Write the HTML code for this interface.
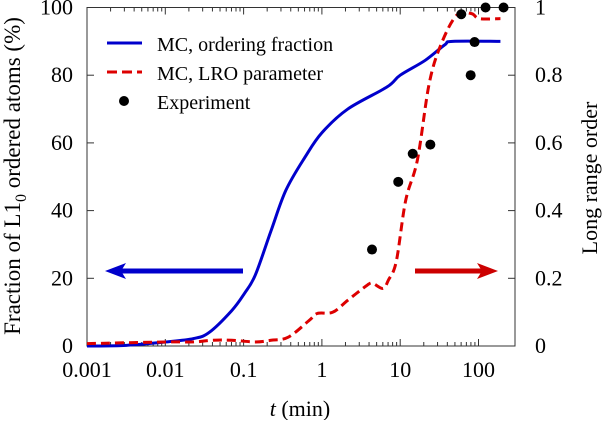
<!DOCTYPE html>
<html><head><meta charset="utf-8"><style>
body{margin:0;background:#fff}
svg text{font-family:"Liberation Serif",serif;fill:#000}
</style></head><body>
<svg id="c" width="605" height="420" viewBox="0 0 605 420" xmlns="http://www.w3.org/2000/svg">
<g id="g"></g>
</svg>
<script>
const blueLogT=[-3,-2.5,-1.99,-1.64,-1.44,-1.15,-0.99,-0.85,-0.65,-0.46,-0.21,0,0.33,0.83,1.0,1.32,1.57,1.67,2.28];
const blueVals=[0,0.2,1.2,2.2,4,10.5,15.5,21,34,46,56,63,70,76.5,80,84.4,89,90,90];
const redLogT=[-3,-1.99,-1.64,-1.4,-1.15,-0.85,-0.65,-0.43,-0.16,-0.06,0.14,0.33,0.58,0.65,0.78,0.85,0.95,1.07,1.22,1.37,1.52,1.72,1.91,2.01,2.28];
const redVals=[0.007,0.012,0.012,0.017,0.017,0.012,0.017,0.026,0.076,0.096,0.10,0.135,0.18,0.185,0.17,0.195,0.25,0.43,0.55,0.775,0.89,0.977,0.982,0.967,0.967];
const expLogT=[0.64,0.975,1.16,1.385,1.78,1.90,1.95,2.09,2.32];
const expVals=[0.285,0.485,0.568,0.595,0.98,0.80,0.898,1.0,1.0];
const xTicks=[-3,-2,-1,0,1,2];
const xTickLabels=["0.001","0.01","0.1","1","10","100"];
const yTicks=[0,20,40,60,80,100];
const y2Ticks=[0,0.2,0.4,0.6,0.8,1];
const y2TickLabels=["0","0.2","0.4","0.6","0.8","1"];
const L=87,R=515,T=7.5,B=346;
const X=v=>L+(v+3)*78.3;
const Y=v=>B-(v/100)*(B-T);
const Y2=v=>B-v*(B-T);
const g=document.getElementById('g');
const NS='http://www.w3.org/2000/svg';
function mk(t,a,p){const e=document.createElementNS(NS,t);for(const k in a)e.setAttribute(k,a[k]);(p||g).appendChild(e);return e;}
function smooth(P){let d='M'+P[0][0]+','+P[0][1];for(let i=0;i<P.length-1;i++){const p0=P[i-1]||P[i],p1=P[i],p2=P[i+1],p3=P[i+2]||p2;const c1=[p1[0]+(p2[0]-p0[0])/6,p1[1]+(p2[1]-p0[1])/6],c2=[p2[0]-(p3[0]-p1[0])/6,p2[1]-(p3[1]-p1[1])/6];d+='C'+c1+' '+c2+' '+p2;}return d;}
let e;
e=mk('rect',{x:L,y:T,width:R-L,height:B-T,fill:'none',stroke:'#333','stroke-width':1});


xTicks.forEach((t,i)=>{
 mk('line',{x1:X(t),x2:X(t),y1:B,y2:B-7,stroke:'#333'});
 mk('line',{x1:X(t),x2:X(t),y1:T,y2:T+7,stroke:'#333'});
 if(t<2){for(let m=2;m<10;m++){const xv=X(t+Math.log10(m));mk('line',{x1:xv,x2:xv,y1:B,y2:B-4,stroke:'#333'});mk('line',{x1:xv,x2:xv,y1:T,y2:T+4,stroke:'#333'});}}
 e=mk('text',{x:X(t),y:B+31,'text-anchor':'middle','font-size':22});e.textContent=xTickLabels[i];
 
 
});
yTicks.forEach(t=>{
 mk('line',{x1:L,x2:L+7,y1:Y(t),y2:Y(t),stroke:'#333'});
 e=mk('text',{x:L-14,y:Y(t)+7,'text-anchor':'end','font-size':22});e.textContent=t;
 
 
});
y2Ticks.forEach((t,i)=>{
 mk('line',{x1:R,x2:R-7,y1:Y2(t),y2:Y2(t),stroke:'#333'});
 e=mk('text',{x:R+20,y:Y2(t)+7,'text-anchor':'start','font-size':22});e.textContent=y2TickLabels[i];
 
 
});
e=mk('path',{d:smooth(blueLogT.map((t,i)=>[X(t),Y(blueVals[i])])),fill:'none',stroke:'#0000cc','stroke-width':3});


e=mk('path',{d:smooth(redLogT.map((t,i)=>[X(t),Y2(redVals[i])])),fill:'none',stroke:'#dd0000','stroke-width':3,'stroke-dasharray':'9,5'});


expLogT.forEach((t,i)=>{
 e=mk('circle',{cx:X(t),cy:Y2(expVals[i]),r:5,fill:'#000'});
 
 
});
e=mk('line',{x1:243,x2:118,y1:271,y2:271,stroke:'#0000cc','stroke-width':5});


mk('polygon',{points:'105,271 126,263 121,271 126,279',fill:'#0000cc'});
e=mk('line',{x1:415,x2:485,y1:271,y2:271,stroke:'#cc0000','stroke-width':5});


mk('polygon',{points:'498,271 477,263 482,271 477,279',fill:'#cc0000'});
const lg=mk('g',{});


mk('line',{x1:107,x2:142,y1:43,y2:43,stroke:'#0000cc','stroke-width':3},lg);
mk('line',{x1:107,x2:142,y1:72,y2:72,stroke:'#dd0000','stroke-width':3,'stroke-dasharray':'10,5'},lg);
mk('circle',{cx:124,cy:101,r:5,fill:'#000'},lg);
[['MC, ordering fraction',51],['MC, LRO parameter',80],['Experiment',109]].forEach(([s,y])=>{
 e=mk('text',{x:157,y:y,'font-size':20},lg);e.textContent=s;
 
 
});
</script>
<svg style="position:absolute;left:0;top:0" width="605" height="420">
<text x="300" y="416" text-anchor="middle" font-size="22" font-family="Liberation Serif,serif"><tspan font-style="italic">t</tspan> (min)</text>
<text transform="translate(20,176) rotate(-90)" text-anchor="middle" font-size="23" font-family="Liberation Serif,serif">Fraction of L1<tspan font-size="16" dy="6">0</tspan><tspan dy="-6"> ordered atoms (%)</tspan></text>
<text transform="translate(597,178) rotate(-90)" text-anchor="middle" font-size="22" font-family="Liberation Serif,serif">Long range order</text>
</svg>
</body></html>
